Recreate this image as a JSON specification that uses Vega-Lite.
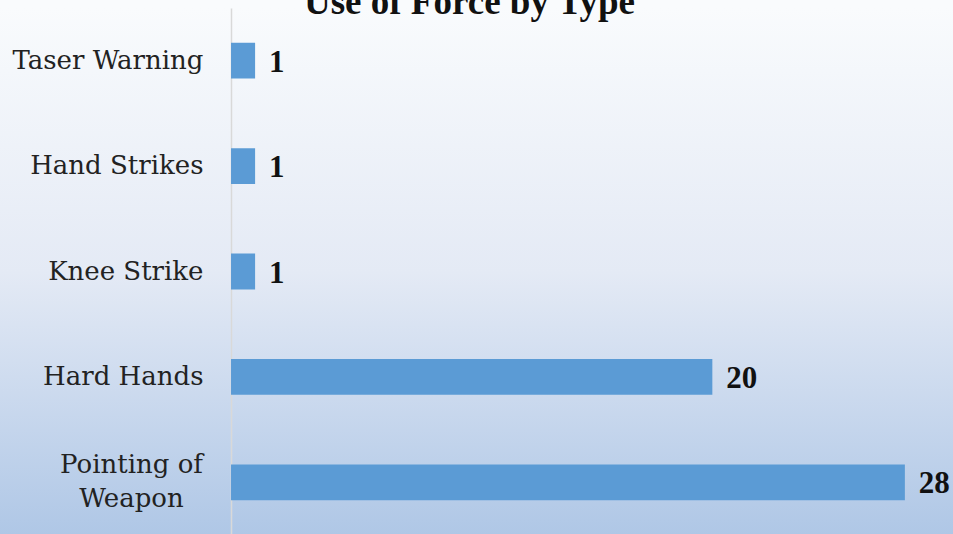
{
  "$schema": "https://vega.github.io/schema/vega-lite/v6.json",
  "autosize": "none",
  "width": 953,
  "height": 527,
  "padding": {"top": 8, "left": 0, "right": 0, "bottom": 0},
  "background": "#f9fbfd",
  "title": {
    "text": "Use of Force by Type",
    "font": "Liberation Serif",
    "fontSize": 37,
    "fontWeight": "bold",
    "color": "#111111",
    "anchor": "start",
    "dx": 304,
    "baseline": "alphabetic",
    "offset": -43
  },
  "config": {
    "view": {
      "stroke": null,
      "fill": {
        "gradient": "linear",
        "x1": 0, "y1": 0, "x2": 0, "y2": 1,
        "stops": [
          {"offset": 0, "color": "#f9fbfd"},
          {"offset": 0.5, "color": "#e4eaf5"},
          {"offset": 1, "color": "#afc7e6"}
        ]
      }
    }
  },
  "data": {
    "values": [
      {"type": "Taser Warning", "count": 1},
      {"type": "Hand Strikes", "count": 1},
      {"type": "Knee Strike", "count": 1},
      {"type": "Hard Hands", "count": 20},
      {"type": "Pointing of Weapon", "count": 28}
    ]
  },
  "encoding": {
    "y": {
      "field": "type",
      "type": "nominal",
      "sort": null,
      "scale": {"paddingInner": 0.66, "paddingOuter": 0.33},
      "axis": {
        "title": null,
        "ticks": false,
        "grid": false,
        "offset": -231,
        "domainColor": "#d9d9d9",
        "domainWidth": 1.5,
        "labelFont": "DejaVu Serif",
        "labelFontSize": 26,
        "labelColor": "#222222",
        "labelLimit": 0,
        "labelLineHeight": 34,
        "labelExpr": "datum.value === 'Pointing of Weapon' ? ['Pointing of', 'Weapon'] : datum.label",
        "labelAlign": {"condition": {"test": "datum.value === 'Pointing of Weapon'", "value": "center"}, "value": "right"},
        "labelPadding": {"condition": {"test": "datum.value === 'Pointing of Weapon'", "value": 100}, "value": 28},
        "labelOffset": {"condition": {"test": "datum.value === 'Pointing of Weapon'", "value": -17}, "value": 0}
      }
    },
    "x": {
      "field": "count",
      "type": "quantitative",
      "scale": {"domain": [-9.6, 30], "nice": false, "zero": false},
      "axis": null
    }
  },
  "layer": [
    {
      "mark": {"type": "bar", "color": "#5b9bd5"},
      "encoding": {"x": {"datum": 0}, "x2": {"field": "count"}}
    },
    {
      "mark": {
        "type": "text",
        "align": "left",
        "baseline": "middle",
        "dx": 14,
        "dy": 2,
        "font": "Liberation Serif",
        "fontSize": 31,
        "fontWeight": "bold",
        "color": "#111111"
      },
      "encoding": {"text": {"field": "count", "type": "quantitative"}}
    }
  ]
}
